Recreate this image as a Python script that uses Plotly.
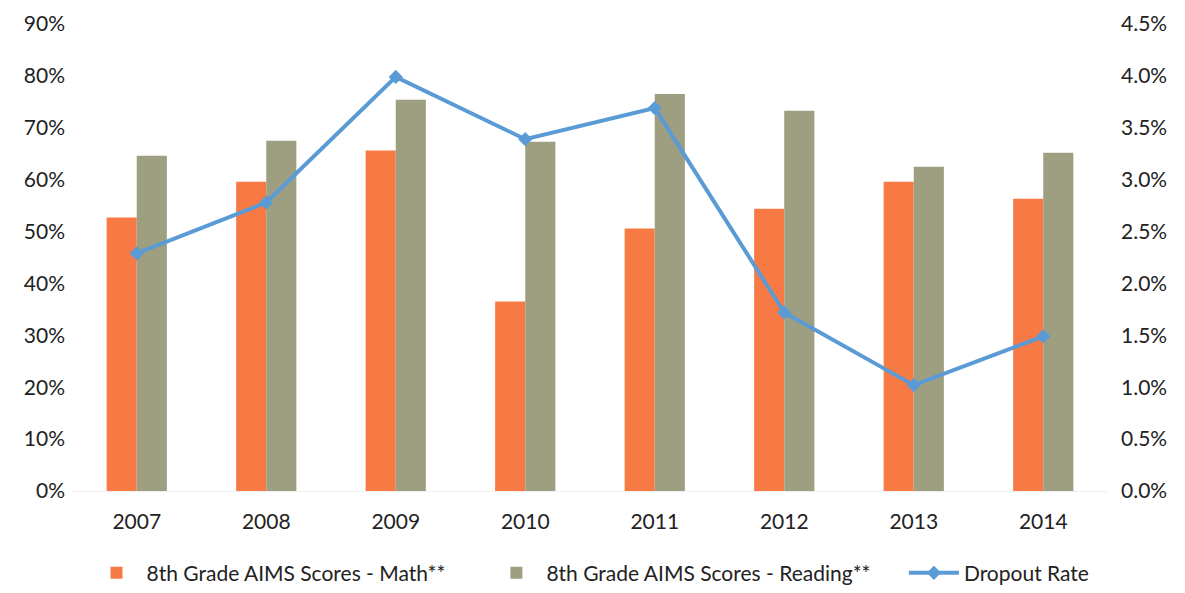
import plotly.graph_objects as go

years = ["2007", "2008", "2009", "2010", "2011", "2012", "2013", "2014"]
math_scores = [0.527, 0.596, 0.656, 0.365, 0.506, 0.544, 0.596, 0.563]
reading_scores = [0.646, 0.675, 0.754, 0.673, 0.765, 0.733, 0.625, 0.652]
dropout_rate = [0.0229, 0.0278, 0.0399, 0.0339, 0.0369, 0.0172, 0.0102, 0.0149]

FONT = "Lato, 'Open Sans', sans-serif"

fig = go.Figure()
fig.add_trace(go.Bar(x=years, y=math_scores, name="8th Grade AIMS Scores - Math**",
                     marker=dict(color="#F77A45", line=dict(width=0)), legend="legend"))
fig.add_trace(go.Bar(x=years, y=reading_scores, name="8th Grade AIMS Scores - Reading**",
                     marker=dict(color="#9E9E80", line=dict(width=0)), legend="legend2"))
fig.add_trace(go.Scatter(x=years, y=dropout_rate, name="Dropout Rate", yaxis="y2",
                         mode="lines+markers",
                         line=dict(color="#5B9BD5", width=4),
                         marker=dict(symbol="diamond", size=11, color="#5B9BD5"),
                         legend="legend3"))

leg_common = dict(orientation="h", y=-0.176, yanchor="middle", xanchor="left",
                  font=dict(size=21), itemwidth=50, bgcolor="rgba(0,0,0,0)")

fig.update_layout(
    width=1185, height=593,
    paper_bgcolor="white", plot_bgcolor="white",
    margin=dict(l=64, r=85, t=16, b=110, autoexpand=False),
    barmode="group", bargap=0.535, bargroupgap=0,
    font=dict(family=FONT, size=21, color="#222222"),
    xaxis=dict(showgrid=False, showline=True, linecolor="#f0f0f0", ticks="",
               tickfont=dict(size=21), ticklabelstandoff=12),
    yaxis=dict(range=[0, 0.9], dtick=0.1, tickformat=".0%", showgrid=False,
               zeroline=False, ticks="", ticklabelstandoff=6, tickfont=dict(size=21)),
    yaxis2=dict(range=[0, 0.045], dtick=0.005, tickformat=".1%", overlaying="y",
                side="right", showgrid=False, zeroline=False, ticks="",
                ticklabelstandoff=12, tickfont=dict(size=21)),
    legend=dict(x=0.014, **leg_common),
    legend2=dict(x=0.40, **leg_common),
    legend3=dict(x=0.803, **leg_common),
    showlegend=True,
)

fig.write_html("out.html")
